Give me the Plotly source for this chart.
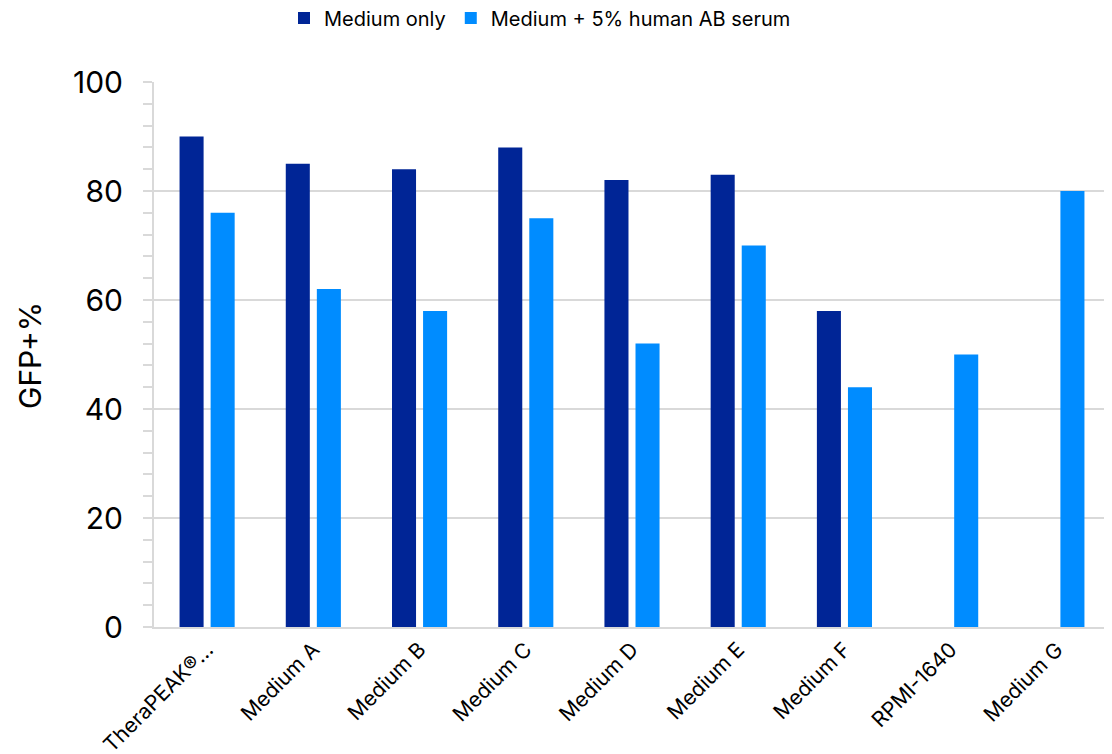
import plotly.graph_objects as go

categories = ["TheraPEAK®…", "Medium A", "Medium B", "Medium C", "Medium D",
              "Medium E", "Medium F", "RPMI-1640", "Medium G"]
medium_only = [90, 85, 84, 88, 82, 83, 58, None, None]
medium_serum = [76, 62, 58, 75, 52, 70, 44, 50, 80]
y_ticks = [0, 20, 40, 60, 80, 100]

DARK = "#002596"
LIGHT = "#008CFF"
GRID = "#D9D9D9"
FONT = "Inter, Roboto, sans-serif"

# page body has an 8px default margin; margins compensate for it
L, R, T, B = 146, 10, 74, 135
W, H = 1112, 754
pw, ph = W - L - R, H - T - B

fig = go.Figure()
fig.add_trace(go.Bar(x=categories, y=medium_only, name="Medium only",
                     marker=dict(color=DARK, line=dict(width=0))))
fig.add_trace(go.Bar(x=categories, y=medium_serum, name="Medium + 5% human AB serum",
                     marker=dict(color=LIGHT, line=dict(width=0))))

fig.update_layout(
    width=W, height=H,
    margin=dict(l=L, r=R, t=T, b=B, autoexpand=False),
    paper_bgcolor="white", plot_bgcolor="white",
    barmode="group", bargap=0.415, bargroupgap=0.226,
    font=dict(family=FONT, color="black"),
    legend=dict(orientation="h", x=532 / W, xanchor="center", xref="container",
                y=1 - 10 / H, yanchor="middle", yref="container",
                font=dict(size=20), itemwidth=30, tracegroupgap=0),
    xaxis=dict(tickangle=-45, tickfont=dict(size=21), showline=True, linecolor=GRID,
               linewidth=2, ticks="", showgrid=False, automargin=False),
    yaxis=dict(range=[0, 100], tickvals=y_ticks, tickfont=dict(size=30),
               showgrid=True, gridcolor=GRID, gridwidth=1.5,
               showline=True, linecolor=GRID, linewidth=2,
               ticks="outside", ticklen=9, tickcolor=GRID, tickwidth=1.5,
               ticklabelstandoff=14, automargin=False,
               minor=dict(dtick=4, ticks="outside", ticklen=9, tickcolor=GRID,
                          tickwidth=1.5, showgrid=False),
               zeroline=False),
    annotations=[dict(text="GFP+%", x=(22 - L) / pw, y=1 - (348 - T) / ph,
                      xref="paper", yref="paper",
                      showarrow=False, textangle=-90, font=dict(size=30),
                      xanchor="center", yanchor="middle")],
)

fig.write_html("out.html")
